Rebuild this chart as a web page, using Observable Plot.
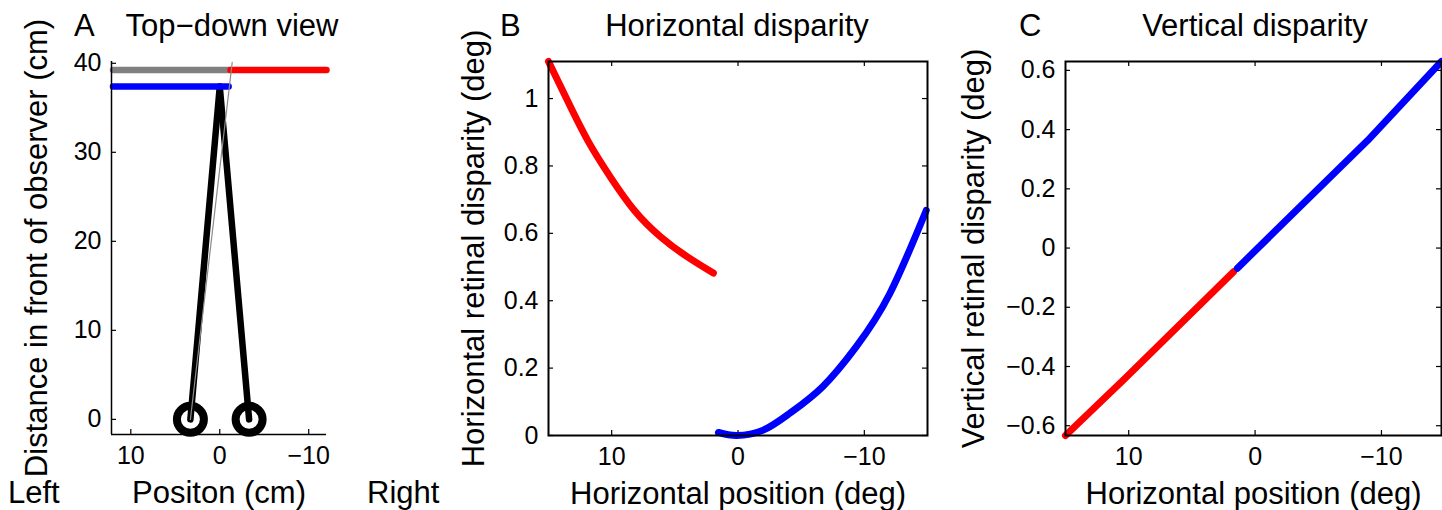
<!DOCTYPE html>
<html><head><meta charset="utf-8">
<script src="https://cdn.jsdelivr.net/npm/d3@7"></script>
<script src="https://cdn.jsdelivr.net/npm/@observablehq/plot@0.6"></script>
<style>
body{margin:0;background:#fff;}
#fig{position:relative;width:1442px;height:510px;overflow:hidden;background:#fff;font-family:"Liberation Sans",Arial,sans-serif;}
.panel{position:absolute;top:0;}
.txt{position:absolute;font-size:31px;line-height:1;white-space:nowrap;color:#000;}
.ctr{transform:translateX(-50%);}
</style></head><body><div id="fig"></div>
<script>
// ---------- Panel A : top-down view ----------
const aXDomain = [12.17, -12];
const aYDomain = [-1.7, 40.2];
const aXTicks = [10, 0, -10];
const aYTicks = [0, 10, 20, 30, 40];
const grayBarX = [12, -1.2];   const grayBarY = [39.25, 39.25];
const redBarX  = [-1.2, -12];  const redBarY  = [39.25, 39.25];
const blueBarX = [12, -1.0];   const blueBarY = [37.4, 37.4];
const eyeX = [3.3, -3.3];      const eyeY = [0, 0];
const fixX = 0;                const fixY = 37.4;
const sightX = [3.3, -1.4];    const sightY = [0, 40.1];

// ---------- Panel B : horizontal disparity ----------
const bXDomain = [15, -15];
const bYDomain = [0, 1.11];
const bXTicks = [10, 0, -10];
const bYTicks = [0, 0.2, 0.4, 0.6, 0.8, 1];
const bRedX  = [15, 13.5, 11.9, 10.1, 8.2, 6.1, 4.0, 1.95];
const bRedY  = [1.11, 0.994, 0.876, 0.767, 0.668, 0.589, 0.530, 0.482];
const bBlueX = [1.55, 0.1, -2.0, -4.1, -6.7, -9.35, -12.0, -14.9];
const bBlueY = [0.009, 0.0, 0.016, 0.066, 0.145, 0.263, 0.42, 0.668];

// ---------- Panel C : vertical disparity ----------
const cXDomain = [15, -14.75];
const cYDomain = [-0.633, 0.63];
const cXTicks = [10, 0, -10];
const cYTicks = [-0.6, -0.4, -0.2, 0, 0.2, 0.4, 0.6];
const cRedX  = [15, 10.4, 1.7];
const cRedY  = [-0.633, -0.445, -0.08];
const cBlueX = [1.4, -8.9, -14.75];
const cBlueY = [-0.068, 0.363, 0.63];

const zip = (xs, ys, extra = {}) => xs.map((x, i) => ({x, y: ys[i], ...extra}));
const fmt = d3.format("~g");

const H = 510, TK = 5;
function panel({left, width, mL, mR, mT, mB, xDomain, yDomain, xTicks, yTicks, box, axisW,
                xLabel, yLabel, xLabelOffset, yLabelOffset, marks}) {
  const iw = width - mL - mR, ih = H - mT - mB;
  const m = [];
  // inward ticks
  m.push(Plot.tickX(xTicks, {x: d => d, insetTop: ih - TK, stroke: "#000", strokeWidth: 1.2}));
  m.push(Plot.tickY(yTicks, {y: d => d, insetRight: iw - TK, stroke: "#000", strokeWidth: 1.2}));
  if (box) {
    m.push(Plot.tickX(xTicks, {x: d => d, insetBottom: ih - TK, stroke: "#000", strokeWidth: 1.2}));
    m.push(Plot.tickY(yTicks, {y: d => d, insetLeft: iw - TK, stroke: "#000", strokeWidth: 1.2}));
  }
  m.push(...marks);
  if (box) {
    m.push(Plot.frame({stroke: "#000", strokeWidth: axisW}));
  } else {
    m.push(Plot.ruleX([xDomain[0]], {stroke: "#000", strokeWidth: axisW}));
    m.push(Plot.ruleY([yDomain[0]], {stroke: "#000", strokeWidth: axisW}));
  }
  m.push(Plot.axisX(xTicks, {anchor: "bottom", tickSize: 0, tickPadding: 12, fontSize: 25, label: null, tickFormat: fmt}));
  m.push(Plot.axisY(yTicks, {anchor: "left", tickSize: 0, tickPadding: 10, fontSize: 25, label: null, tickFormat: fmt}));
  m.push(Plot.axisX([], {anchor: "bottom", tickSize: 0, label: xLabel, labelAnchor: "center",
                         labelOffset: xLabelOffset, labelArrow: "none", fontSize: 31}));
  m.push(Plot.axisY([], {anchor: "left", tickSize: 0, label: yLabel, labelAnchor: "center",
                         labelOffset: yLabelOffset, labelArrow: "none", fontSize: 31}));
  const svg = Plot.plot({
    width, height: H,
    marginLeft: mL, marginRight: mR, marginTop: mT, marginBottom: mB,
    x: {domain: xDomain}, y: {domain: yDomain},
    style: {fontFamily: "Liberation Sans, Arial, sans-serif", fontSize: "25px", background: "transparent", color: "#000", overflow: "visible"},
    marks: m
  });
  svg.classList.add("panel");
  svg.style.left = left + "px";
  document.getElementById("fig").appendChild(svg);
}

const lineStyle = (color, w) => ({x: "x", y: "y", stroke: color, strokeWidth: w, strokeLinecap: "round", strokeLinejoin: "round"});

// Panel A
const gaze = [
  ...zip([eyeX[0], fixX], [eyeY[0], fixY], {z: "L"}),
  ...zip([eyeX[1], fixX], [eyeY[1], fixY], {z: "R"})
];
panel({
  left: 0, width: 440, mL: 111, mR: 114, mT: 61, mB: 76,
  xDomain: aXDomain, yDomain: aYDomain, xTicks: aXTicks, yTicks: aYTicks, box: false, axisW: 1.5,
  xLabel: "Positon (cm)", yLabel: "Distance in front of observer (cm)",
  xLabelOffset: 68, yLabelOffset: 87,
  marks: [
    Plot.line(gaze, {x: "x", y: "y", z: "z", stroke: "#000", strokeWidth: 6.5}),
    Plot.dot(zip(eyeX, eyeY), {x: "x", y: "y", r: 13.5, stroke: "#000", strokeWidth: 8, fill: "none"}),
    Plot.line(zip(grayBarX, grayBarY), lineStyle("#808080", 6.5)),
    Plot.line(zip(redBarX, redBarY), lineStyle("#ff0000", 6.5)),
    Plot.line(zip(blueBarX, blueBarY), lineStyle("#0000ff", 6.5)),
    Plot.line(zip(sightX, sightY), {x: "x", y: "y", stroke: "#8c8c8c", strokeWidth: 1.2})
  ]
});

// Panel B
panel({
  left: 440, width: 500, mL: 108, mR: 13, mT: 61, mB: 75,
  xDomain: bXDomain, yDomain: bYDomain, xTicks: bXTicks, yTicks: bYTicks, box: true, axisW: 2,
  xLabel: "Horizontal position (deg)", yLabel: "Horizontal retinal disparity (deg)",
  xLabelOffset: 68, yLabelOffset: 87,
  marks: [
    Plot.line(zip(bRedX, bRedY), {...lineStyle("#ff0000", 7), curve: "natural"}),
    Plot.line(zip(bBlueX, bBlueY), {...lineStyle("#0000ff", 7), curve: "natural"})
  ]
});

// Panel C
panel({
  left: 940, width: 502, mL: 125, mR: 1, mT: 61, mB: 75,
  xDomain: cXDomain, yDomain: cYDomain, xTicks: cXTicks, yTicks: cYTicks, box: true, axisW: 2,
  xLabel: "Horizontal position (deg)", yLabel: "Vertical retinal disparity (deg)",
  xLabelOffset: 68, yLabelOffset: 104,
  marks: [
    Plot.line(zip(cRedX, cRedY), lineStyle("#ff0000", 7)),
    Plot.line(zip(cBlueX, cBlueY), lineStyle("#0000ff", 7))
  ]
});

// Titles and side labels
const texts = [
  {t: "A", left: 74, top: 10},
  {t: "Top\u2212down view", left: 232, top: 10, c: true},
  {t: "B", left: 500, top: 10},
  {t: "Horizontal disparity", left: 737, top: 10, c: true},
  {t: "C", left: 1019, top: 10},
  {t: "Vertical disparity", left: 1255, top: 10, c: true},
  {t: "Left", left: 8, top: 477},
  {t: "Right", left: 367, top: 477}
];
for (const d of texts) {
  const el = document.createElement("div");
  el.className = "txt" + (d.c ? " ctr" : "");
  el.style.left = d.left + "px"; el.style.top = d.top + "px";
  el.textContent = d.t;
  document.getElementById("fig").appendChild(el);
}
</script>
</body></html>
